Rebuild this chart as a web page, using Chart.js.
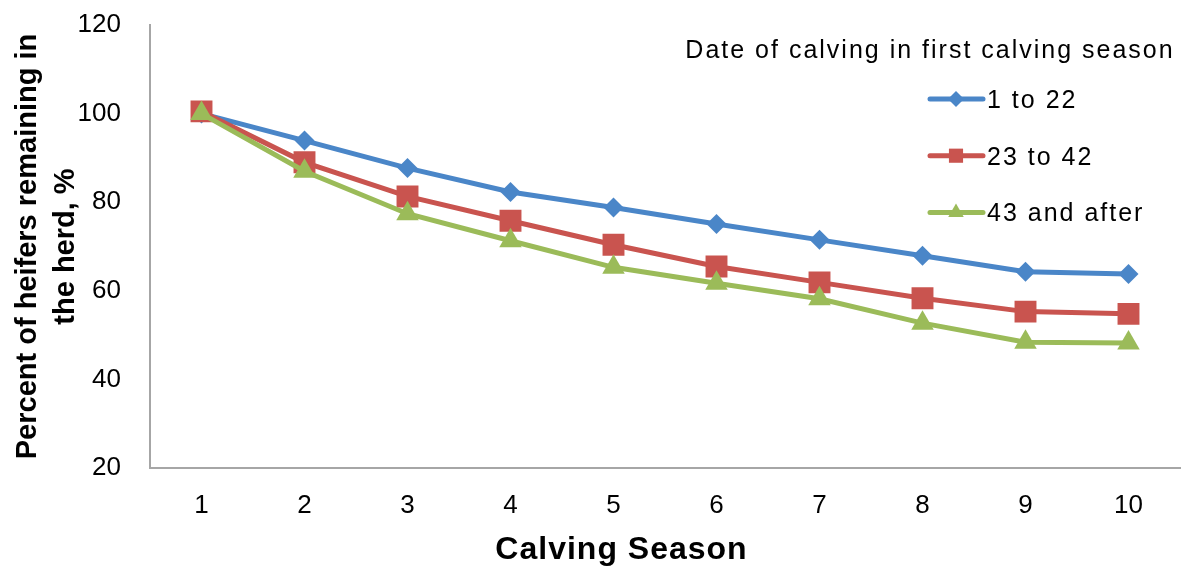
<!DOCTYPE html>
<html>
<head>
<meta charset="utf-8">
<title>Heifers remaining in the herd</title>
<script src="https://cdn.jsdelivr.net/npm/chart.js@4.4.1/dist/chart.umd.min.js"></script>
<style>
  html, body { margin: 0; padding: 0; background: #fff; overflow: hidden; }
  canvas { display: block; }
</style>
</head>
<body>
<canvas id="herdChart" width="1181" height="566"></canvas>
<script>
// Data
const seasons = ['1', '2', '3', '4', '5', '6', '7', '8', '9', '10'];
const early = [100, 93.9, 87.7, 82.3, 78.8, 75.1, 71.5, 67.9, 64.3, 63.8];   // 1 to 22
const middle = [100.5, 89.0, 81.3, 75.8, 70.4, 65.5, 61.9, 58.3, 55.3, 54.8]; // 23 to 42
const late = [100, 87.0, 77.4, 71.3, 65.3, 61.7, 58.2, 52.7, 48.4, 48.2];     // 43 and after
const seriesNames = ['1 to 22', '23 to 42', '43 and after'];
const yTicks = [20, 40, 60, 80, 100, 120];

const legendTitle = 'Date of calving in first calving season';
const xTitle = 'Calving Season';
const yTitle = ['Percent of heifers remaining in', 'the herd, %'];

const FONT = '"Liberation Sans", Arial, Helvetica, sans-serif';

// legend drawn inside the plot, top right, plus the x axis title
const insideLegend = {
  id: 'insideLegend',
  afterDraw(chart) {
    const ctx = chart.ctx;
    const area = chart.chartArea;
    ctx.save();
    ctx.fillStyle = '#000';
    ctx.textBaseline = 'alphabetic';

    ctx.font = '25px ' + FONT;
    ctx.letterSpacing = '2px';
    ctx.textAlign = 'center';
    ctx.fillText(legendTitle, area.right - 250, 58);

    ctx.textAlign = 'left';
    const x0 = area.right - 252;
    const legendRadius = [8, 10, 9];
    chart.data.datasets.forEach((ds, i) => {
      const base = 108 + i * 56.7;
      const y = base - 9;
      ctx.strokeStyle = ds.borderColor;
      ctx.lineWidth = 5;
      ctx.lineCap = 'round';
      ctx.beginPath();
      ctx.moveTo(x0 + 2, y);
      ctx.lineTo(x0 + 55, y);
      ctx.stroke();
      ctx.fillStyle = ds.pointBackgroundColor;
      Chart.helpers.drawPoint(ctx, {
        pointStyle: ds.pointStyle,
        radius: legendRadius[i],
        borderWidth: 0,
        rotation: 0
      }, x0 + 28, y);
      ctx.fillStyle = '#000';
      ctx.fillText(ds.label, x0 + 59, base);
    });

    // x axis title
    ctx.letterSpacing = '1px';
    ctx.font = 'bold 32px ' + FONT;
    ctx.textAlign = 'center';
    const xs = chart.scales.x;
    ctx.fillText(xTitle, xs.getPixelForValue(4) + 8, 559);
    ctx.restore();
  }
};

const ctx = document.getElementById('herdChart').getContext('2d');
new Chart(ctx, {
  type: 'line',
  data: {
    labels: seasons,
    datasets: [
      {
        label: seriesNames[0],
        data: early,
        borderColor: '#4A86C8',
        backgroundColor: '#4A86C8',
        pointBackgroundColor: '#4A86C8',
        pointBorderWidth: 0,
        pointStyle: 'rectRot',
        pointRadius: 10,
        borderWidth: 5,
        order: 3
      },
      {
        label: seriesNames[1],
        data: middle,
        borderColor: '#C9544F',
        backgroundColor: '#C9544F',
        pointBackgroundColor: '#C9544F',
        pointBorderWidth: 0,
        pointStyle: 'rect',
        pointRadius: 15.5,
        borderWidth: 5,
        order: 2
      },
      {
        label: seriesNames[2],
        data: late,
        borderColor: '#9BBB59',
        backgroundColor: '#9BBB59',
        pointBackgroundColor: '#9BBB59',
        pointBorderWidth: 0,
        pointStyle: 'triangle',
        pointRadius: 13,
        borderWidth: 5,
        order: 1
      }
    ]
  },
  options: {
    responsive: false,
    animation: false,
    events: [],
    layout: { autoPadding: false, padding: { top: 25, right: 1, left: 0, bottom: 0 } },
    plugins: {
      legend: { display: false },
      tooltip: { enabled: false }
    },
    scales: {
      x: {
        offset: true,
        grid: { display: false, drawTicks: false },
        border: { color: '#A6A6A6', width: 2 },
        ticks: { color: '#000', font: { family: FONT, size: 26 }, padding: 22 },
        afterFit(scale) {
          scale.height = 98;
          scale.paddingLeft = 0;
          scale.paddingRight = 0;
        }
      },
      y: {
        min: 20,
        max: 120,
        grid: { display: false, drawTicks: false },
        border: { color: '#A6A6A6', width: 2 },
        afterBuildTicks(scale) { scale.ticks = yTicks.map(v => ({ value: v })); },
        ticks: { color: '#000', font: { family: FONT, size: 26 }, padding: 29 },
        title: {
          display: true,
          text: yTitle,
          color: '#000',
          font: { family: FONT, size: 29, weight: 'bold', lineHeight: 1.31 },
          padding: { top: 9, bottom: 0 }
        },
        afterFit(scale) {
          scale.width = 150;
          scale.paddingTop = 0;
          scale.paddingBottom = 0;
        }
      }
    }
  },
  plugins: [insideLegend]
});
</script>
</body>
</html>
